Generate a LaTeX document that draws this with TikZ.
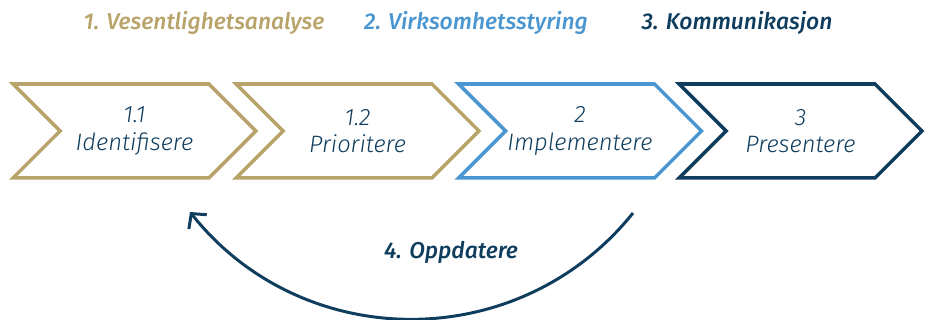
\documentclass[tikz,border=0pt]{standalone}
\usepackage{fontspec}
\setmainfont{Fira Sans}
\IfFontExistsTF{Fira Sans Light}{\newfontfamily\lightfont{Fira Sans Light}}{\newfontfamily\lightfont{Fira Sans}}
\IfFontExistsTF{Fira Sans Medium}{\newfontfamily\mediumfont{Fira Sans Medium}}{\newfontfamily\mediumfont{Fira Sans}}
\usepackage{tikz}
\usetikzlibrary{arrows.meta,shapes.symbols,positioning}
\definecolor{vsgold}{HTML}{B8A46A}
\definecolor{vsblue}{HTML}{4A96D1}
\definecolor{vsnavy}{HTML}{0F3D5E}

\begin{document}
\begin{tikzpicture}[x=0.02cm, y=-0.02cm,
    chevron/.style={signal, signal from=west, signal to=east, signal pointer angle=90,
      line width=2pt, fill=white, minimum width=4.86cm, minimum height=1.88cm,
      inner sep=0pt, align=center, text=vsnavy, font=\lightfont\itshape\fontsize{13.5}{15.5}\selectfont},
    phase/.style={font=\mediumfont\itshape\fontsize{13}{16}\selectfont}]
    \useasboundingbox (0,0) rectangle (925,320);

    % Phase headings
    \node[phase, text=vsgold] (head1) at (204,23) {1. Vesentlighetsanalyse};
    \node[phase, text=vsblue] (head2) at (476,23) {2. Virksomhetsstyring};
    \node[phase, text=vsnavy] (head3) at (737,23) {3. Kommunikasjon};

    % Process steps
    \node[chevron, draw=vsgold] (identify) at (134.5,131) {1.1\\Identifisere};
    \node[chevron, draw=vsgold] (prioritize) at (357.5,131) {1.2\\Prioritere};
    \node[chevron, draw=vsblue] (implement) at (580,131) {2\\Implementere};
    \node[chevron, draw=vsnavy] (present) at (800.5,131) {3\\Presentere};

    % Update loop
    \coordinate (loopstart) at (633,213);
    \coordinate (loopend) at (190,212);
    \draw[vsnavy, line width=1.7pt, -{Straight Barb[length=6pt, width=13pt]}]
      (loopstart) .. controls +(-114,142) and +(113,142) .. (loopend);
    \node[phase, text=vsnavy] (update) at (451,252) {4. Oppdatere};
\end{tikzpicture}
\end{document}
